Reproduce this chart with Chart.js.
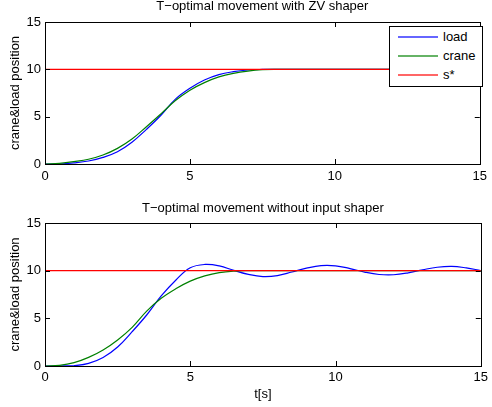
<!DOCTYPE html>
<html>
<head>
<meta charset="utf-8">
<script src="https://cdn.jsdelivr.net/npm/chart.js@4.4.1/dist/chart.umd.min.js"></script>
<style>
  body { margin: 0; background: #fff; }
  #wrap { position: relative; width: 492px; height: 407px; font-family: "Liberation Sans", Arial, sans-serif; }
  canvas { position: absolute; left: 0; }
  #legend { position: absolute; left: 389px; top: 26px; width: 94px; height: 61px; box-sizing: border-box; border: 1px solid #000; background: #fff; }
  #legend .row { position: absolute; left: 8px; height: 16px; width: 80px; font-size: 13px; line-height: 16px; color: #000; }
  #legend .swatch { position: absolute; left: 0; top: 7px; width: 40px; height: 2px; opacity: 0.6; }
  #legend .text { position: absolute; left: 45px; top: 0; }
</style>
</head>
<body>
<div id="wrap">
  <canvas id="zvChart" width="492" height="200" style="top:0"></canvas>
  <canvas id="rawChart" width="492" height="207" style="top:200px"></canvas>
  <div id="legend"></div>
</div>
<script>
// time samples [s]
const times = [0, 0.5, 1, 1.5, 2, 2.5, 3, 3.5, 4, 4.5, 5, 5.5, 6, 6.5, 7, 7.5,
               8, 8.5, 9, 9.5, 10, 10.5, 11, 11.5, 12, 12.5, 13, 13.5, 14, 14.5, 15];

// movement with ZV shaper
const zvLoad = [0, 0, 0.12, 0.32, 0.7, 1.3, 2.3, 3.66, 5.15, 6.85, 8.0, 8.87, 9.44, 9.75, 9.93, 9.99,
                10, 10, 10, 10, 10, 10, 10, 10, 10, 10, 10, 10, 10, 10, 10];
const zvCrane = [0, 0.07, 0.25, 0.5, 0.95, 1.65, 2.64, 3.94, 5.3, 6.7, 7.8, 8.6, 9.2, 9.58, 9.82, 9.96,
                 10, 10, 10, 10, 10, 10, 10, 10, 10, 10, 10, 10, 10, 10, 10];

// movement without input shaper
const rawLoad = [0, 0, 0.03, 0.28, 0.9, 2.0, 3.6, 5.35, 7.35, 9.0, 10.3, 10.65, 10.5, 10.03, 9.61, 9.38,
                 9.48, 9.86, 10.26, 10.53, 10.51, 10.22, 9.85, 9.6, 9.57, 9.77, 10.09, 10.36, 10.45, 10.29, 10.02];
const rawCrane = [0, 0.07, 0.35, 0.9, 1.68, 2.73, 4.05, 5.75, 7.1, 8.1, 8.9, 9.45, 9.8, 9.96, 10, 10,
                  10, 10, 10, 10, 10, 10, 10, 10, 10, 10, 10, 10, 10, 10, 10];

// target position s*
const target = times.map(() => 10);

const tickValues = [0, 5, 10, 15];

const series = [
    { label: "load", color: "#0000ff" },
    { label: "crane", color: "#008000" },
    { label: "s*", color: "#ff0000" },
];

Chart.defaults.font.family = "'Liberation Sans', Arial, sans-serif";
Chart.defaults.font.size = 13;
Chart.defaults.color = "#000";

// box around the plot area with inward tick marks on all four sides
const boxTicks = {
    id: "boxTicks",
    afterDraw(chart) {
        const { ctx, chartArea: a, scales } = chart;
        ctx.save();
        ctx.strokeStyle = "#000";
        ctx.lineWidth = 1;
        ctx.beginPath();
        scales.x.ticks.forEach((t) => {
            const px = Math.round(scales.x.getPixelForValue(t.value)) + 0.5;
            ctx.moveTo(px, a.bottom);
            ctx.lineTo(px, a.bottom - 5);
            ctx.moveTo(px, a.top);
            ctx.lineTo(px, a.top + 5);
        });
        scales.y.ticks.forEach((t) => {
            const py = Math.round(scales.y.getPixelForValue(t.value)) + 0.5;
            ctx.moveTo(a.left, py);
            ctx.lineTo(a.left + 5, py);
            ctx.moveTo(a.right, py);
            ctx.lineTo(a.right - 5, py);
        });
        ctx.stroke();
        ctx.strokeRect(Math.round(a.left) + 0.5, Math.round(a.top) + 0.5,
                       Math.round(a.width), Math.round(a.height));
        ctx.restore();
    },
};

function toPoints(values) {
    return values.map((v, i) => ({ x: times[i], y: v }));
}

function makeChart(id, title, load, crane, o) {
    const sets = [load, crane, target];
    new Chart(document.getElementById(id), {
        type: "line",
        data: {
            datasets: series.map((s, i) => ({
                label: s.label,
                data: toPoints(sets[i]),
                borderColor: s.color,
                borderWidth: 1.2,
                pointRadius: 0,
                tension: 0.4,
                order: 2 - i,
            })),
        },
        options: {
            responsive: false,
            animation: false,
            layout: { padding: { left: 0, right: 7, top: 0, bottom: 0 } },
            scales: {
                x: {
                    type: "linear",
                    min: 0,
                    max: 15,
                    afterBuildTicks: (s) => { s.ticks = tickValues.map((v) => ({ value: v })); },
                    afterFit: (s) => { s.height = o.xHeight; },
                    grid: { display: false, drawTicks: false },
                    border: { display: false },
                    ticks: { padding: o.xPad, maxRotation: 0 },
                    title: {
                        display: !!o.xTitle,
                        text: o.xTitle || "",
                        font: { size: 13, lineHeight: "13px" },
                        padding: { top: 0, bottom: 6.5 },
                    },
                },
                y: {
                    min: 0,
                    max: 15,
                    afterBuildTicks: (s) => { s.ticks = tickValues.map((v) => ({ value: v })); },
                    afterFit: (s) => { s.width = 45; },
                    grid: { display: false, drawTicks: false },
                    border: { display: false },
                    ticks: { padding: 4 },
                    title: {
                        display: true,
                        text: "crane&load position",
                        font: { size: 13, lineHeight: "13px" },
                        padding: { top: 8.5, bottom: 0 },
                    },
                },
            },
            plugins: {
                legend: { display: false },
                tooltip: { enabled: false },
                title: {
                    display: true,
                    text: title,
                    fullSize: false,
                    font: { size: 13, weight: "normal", lineHeight: "13px" },
                    padding: o.titlePad,
                },
            },
        },
        plugins: [boxTicks],
    });
}

makeChart("zvChart", "T\u2212optimal movement with ZV shaper", zvLoad, zvCrane,
    { xHeight: 36, xPad: 5, titlePad: { top: 0, bottom: 9 } });
makeChart("rawChart", "T\u2212optimal movement without input shaper", rawLoad, rawCrane,
    { xHeight: 41, xPad: 4, titlePad: { top: 1.5, bottom: 8.5 }, xTitle: "t[s]" });

// legend box in the upper plot
const legend = document.getElementById("legend");
series.forEach((s, i) => {
    const row = document.createElement("div");
    row.className = "row";
    row.style.top = (2 + i * 19) + "px";
    const swatch = document.createElement("div");
    swatch.className = "swatch";
    swatch.style.backgroundColor = s.color;
    const text = document.createElement("div");
    text.className = "text";
    text.textContent = s.label;
    row.appendChild(swatch);
    row.appendChild(text);
    legend.appendChild(row);
});
</script>
</body>
</html>
